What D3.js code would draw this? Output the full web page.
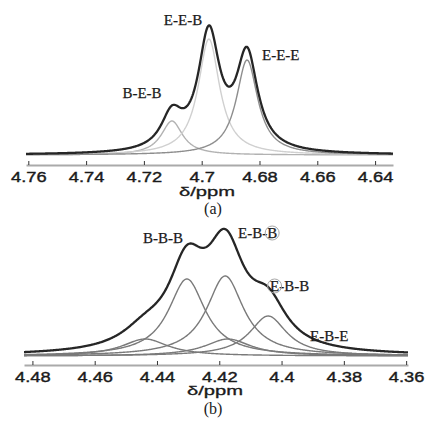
<!DOCTYPE html>
<html>
<head>
<meta charset="utf-8">
<script src="https://cdn.jsdelivr.net/npm/d3@7"></script>
<style>
  body { margin: 0; background: #fff; }
  svg { display: block; }
</style>
</head>
<body>
<svg id="chart" width="426" height="421"></svg>
<script>
// panel (a): fitted peaks (B-E-B, E-E-B, E-E-E)
var peakPpmA = [4.7103, 4.6975, 4.6843];
var peakHeightA = [34, 116, 95];
var peakWidthA = [0.0045, 0.0045, 0.0045];
var tickValuesA = [4.76, 4.74, 4.72, 4.70, 4.68, 4.66, 4.64];

// panel (b): fitted peaks
var peakPpmB = [4.4438, 4.4304, 4.4181, 4.4172, 4.4043];
var peakHeightB = [17, 77, 80, 17, 40];
var peakWidthB = [0.009, 0.0072, 0.0072, 0.009, 0.0072];
var tickValuesB = [4.48, 4.46, 4.44, 4.42, 4.40, 4.38, 4.36];

var svg = d3.select("#chart");

// lorentzian line shape of one fitted peak
function lorentz(ppm, center, height, hw) {
    var d = (ppm - center) / hw;
    return height / (1 + d * d);
}

function drawPanel(opts) {
    var x = d3.scaleLinear().domain(opts.domain).range(opts.range);
    var y = d3.scaleLinear().domain([0, 130]).range([opts.base, opts.base - 130]);
    var grid = d3.range(0, 601).map(function (i) {
        return opts.domain[0] + (opts.domain[1] - opts.domain[0]) * i / 600;
    });
    var line = d3.line()
        .x(function (d) { return x(d[0]); })
        .y(function (d) { return y(d[1]); });

    var g = svg.append("g");

    // the single components
    opts.ppm.forEach(function (c, k) {
        var pts = grid.map(function (p) {
            return [p, lorentz(p, c, opts.height[k], opts.width[k])];
        });
        g.append("path")
            .attr("d", line(pts))
            .attr("fill", "none")
            .attr("stroke", opts.colors[k])
            .attr("stroke-width", 1.4);
    });

    // the sum of the fit
    var total = grid.map(function (p) {
        var s = 0;
        opts.ppm.forEach(function (c, k) {
            s += lorentz(p, c, opts.height[k], opts.width[k]);
        });
        return [p, s];
    });
    g.append("path")
        .attr("d", line(total))
        .attr("fill", "none")
        .attr("stroke", "#262626")
        .attr("stroke-width", 2.3)
        .attr("stroke-linejoin", "round");

    // axis
    var axis = d3.axisBottom(x)
        .tickValues(opts.ticks)
        .tickSizeInner(-4)
        .tickSizeOuter(0)
        .tickPadding(6)
        .tickFormat(d3.format(""));
    var ag = g.append("g")
        .attr("transform", "translate(0," + opts.axisY + ")")
        .call(axis);
    ag.select(".domain").attr("stroke", "#aaa").attr("stroke-width", 2);
    ag.selectAll(".tick line").attr("stroke", "#333");
    // the source picture is stretched sideways, so are its numbers
    ag.selectAll(".tick text")
        .attr("fill", "#1a1a1a")
        .attr("stroke", "#1a1a1a")
        .attr("stroke-width", 0.4)
        .attr("transform", "scale(1.22,1)")
        .style("font-family", "'Liberation Sans', Arial, sans-serif")
        .style("font-size", "15px");

    g.append("text")
        .attr("x", opts.titleX).attr("y", opts.titleY)
        .attr("text-anchor", "middle")
        .attr("textLength", 56)
        .attr("lengthAdjust", "spacingAndGlyphs")
        .style("font-family", "'Liberation Sans', Arial, sans-serif")
        .style("font-size", "13px")
        .attr("fill", "#1a1a1a")
        .attr("stroke", "#1a1a1a")
        .attr("stroke-width", 0.3)
        .text("δ/ppm");

    g.append("text")
        .attr("x", 213).attr("y", opts.capY)
        .attr("text-anchor", "middle")
        .style("font-family", "'Liberation Serif', 'Times New Roman', serif")
        .style("font-size", "16px")
        .attr("fill", "#1a1a1a")
        .text(opts.caption);

    return g;
}

drawPanel({
    domain: [4.7608, 4.6338], range: [26, 393], base: 155, axisY: 165,
    ppm: peakPpmA, height: peakHeightA, width: peakWidthA, ticks: tickValuesA,
    colors: ["#b2b2b2", "#d0d0d0", "#8e8e8e"],
    titleX: 207, titleY: 196, capY: 214, caption: "(a)"
});

drawPanel({
    domain: [4.4827, 4.3594], range: [24, 408], base: 356, axisY: 365,
    ppm: peakPpmB, height: peakHeightB, width: peakWidthB, ticks: tickValuesB,
    colors: ["#7a7a7a", "#7a7a7a", "#7a7a7a", "#7a7a7a", "#7a7a7a"],
    titleX: 215, titleY: 395, capY: 414, caption: "(b)"
});

// peak labels
var labels = [
    { t: "E-E-B", x: 183, y: 25, a: "middle" },
    { t: "E-E-E", x: 262, y: 60, a: "start" },
    { t: "B-E-B", x: 142, y: 98, a: "middle" },
    { t: "B-B-B", x: 163, y: 243, a: "middle" },
    { t: "E-B-B", x: 238, y: 238, a: "start", ring: 4 },
    { t: "E-B-B", x: 270, y: 291, a: "start", ring: 0 },
    { t: "E-B-E", x: 310, y: 341, a: "start" }
];
labels.forEach(function (l) {
    var txt = svg.append("text")
        .attr("x", l.x).attr("y", l.y)
        .attr("text-anchor", l.a)
        .style("font-family", "'Liberation Serif', 'Times New Roman', serif")
        .style("font-size", "15px")
        .attr("fill", "#1a1a1a")
        .attr("stroke", "#1a1a1a")
        .attr("stroke-width", 0.25)
        .text(l.t);
    if (l.ring !== undefined) {
        // circle round one letter
        var ext = txt.node().getExtentOfChar(l.ring);
        svg.append("circle")
            .attr("cx", ext.x + ext.width / 2)
            .attr("cy", l.y - 5)
            .attr("r", 7)
            .attr("fill", "none")
            .attr("stroke", "#a8a8a8")
            .attr("stroke-width", 1);
    }
});
</script>
</body>
</html>
